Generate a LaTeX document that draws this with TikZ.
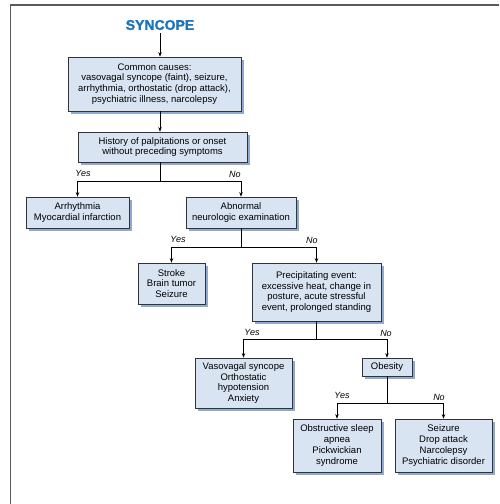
\documentclass[tikz,border=0pt]{standalone}
\usepackage{fontspec}
\setmainfont{Liberation Sans}
\usetikzlibrary{arrows.meta}
\usetikzlibrary{shadows}
\definecolor{boxblue}{RGB}{217,228,242}
\definecolor{shadeblue}{RGB}{140,170,212}
\definecolor{titleblue}{RGB}{28,117,188}
\definecolor{framegray}{RGB}{90,90,90}

\begin{document}
\begin{tikzpicture}[x=1pt,y=-1pt,
	box/.style={draw=black!80, line width=0.7pt, fill=boxblue, align=center, inner sep=0pt, font=\fontsize{9.5}{10.8}\selectfont, drop shadow={shadow xshift=3pt, shadow yshift=-3pt, fill=shadeblue, opacity=1}},
	arr/.style={-{Stealth[length=4.5pt,width=3.5pt]}, line width=0.6pt},
	link/.style={line width=0.6pt},
	ans/.style={font=\fontsize{9}{10}\selectfont\itshape, inner sep=0pt}]

	\useasboundingbox (0,0) rectangle (499,504);
	% Frame %
	\draw [framegray, line width=1.2pt] (10.5,504) -- (10.5,5) -- (499,5);
	% Title %
	\node (title) [font=\fontsize{14}{16}\selectfont\bfseries\addfontfeatures{FakeBold=1.5}, text=titleblue] at (160,25) {SYNCOPE};
	% Boxes %
	\node (causes) [box, minimum width=173pt, minimum height=54pt] at (154.5,84) {Common causes:\\ vasovagal syncope (faint), seizure,\\ arrhythmia, orthostatic (drop attack),\\ psychiatric illness, narcolepsy};
	\node (history) [box, minimum width=169pt, minimum height=30pt] at (162.5,147) {History of palpitations or onset\\ without preceding symptoms};
	\node (cardiac) [box, minimum width=103pt, minimum height=31pt] at (77.5,212.5) {Arrhythmia\\ Myocardial infarction};
	\node (neuro) [box, minimum width=110pt, minimum height=31pt] at (241,212.5) {Abnormal\\ neurologic examination};
	\node (stroke) [box, minimum width=67pt, minimum height=41pt] at (171.5,283.5) {Stroke\\ Brain tumor\\ Seizure};
	\node (event) [box, minimum width=129pt, minimum height=58pt] at (316.5,292) {Precipitating event:\\ excessive heat, change in\\ posture, acute stressful\\ event, prolonged standing};
	\node (vasovagal) [box, minimum width=97pt, minimum height=50pt] at (243.5,383) {Vasovagal syncope\\ Orthostatic\\ hypotension\\ Anxiety};
	\node (obesity) [box, minimum width=50pt, minimum height=18pt] at (387,367) {Obesity};
	\node (apnea) [box, minimum width=88pt, minimum height=53pt] at (337,445.5) {Obstructive sleep\\ apnea\\ Pickwickian\\ syndrome};
	\node (other) [box, minimum width=97pt, minimum height=53pt] at (443.5,445.5) {Seizure\\ Drop attack\\ Narcolepsy\\ Psychiatric disorder};
	% Arrows %
	\draw [arr] (title.south) -- (title |- causes.north);
	\draw [arr] (causes.south -| title) -- (title |- history.north);
	\draw [link] (history.south -| title) -- ++(0,19) coordinate (split1);
	\draw [arr] (split1) -| (cardiac.north);
	\draw [arr] (split1) -| (neuro.north);
	\draw [link] (neuro.south) -- ++(0,19) coordinate (split2);
	\draw [arr] (split2) -| (stroke.north);
	\draw [arr] (split2) -| (event.north);
	\draw [link] (event.south) -- ++(0,18) coordinate (split3);
	\draw [arr] (split3) -| (vasovagal.north);
	\draw [arr] (split3) -| (obesity.north);
	\draw [link] (obesity.south) -- ++(0,27) coordinate (split4);
	\draw [arr] (split4) -| (apnea.north);
	\draw [arr] (split4) -| (other.north);
	% Answers %
	\node (yes1) [ans] at (83,173) {Yes};
	\node (no1) [ans] at (235,174) {No};
	\node (yes2) [ans] at (178,239) {Yes};
	\node (no2) [ans] at (312,240) {No};
	\node (yes3) [ans] at (252,332) {Yes};
	\node (no3) [ans] at (386,333) {No};
	\node (yes4) [ans] at (342,395) {Yes};
	\node (no4) [ans] at (439,397) {No};
\end{tikzpicture}
\end{document}
